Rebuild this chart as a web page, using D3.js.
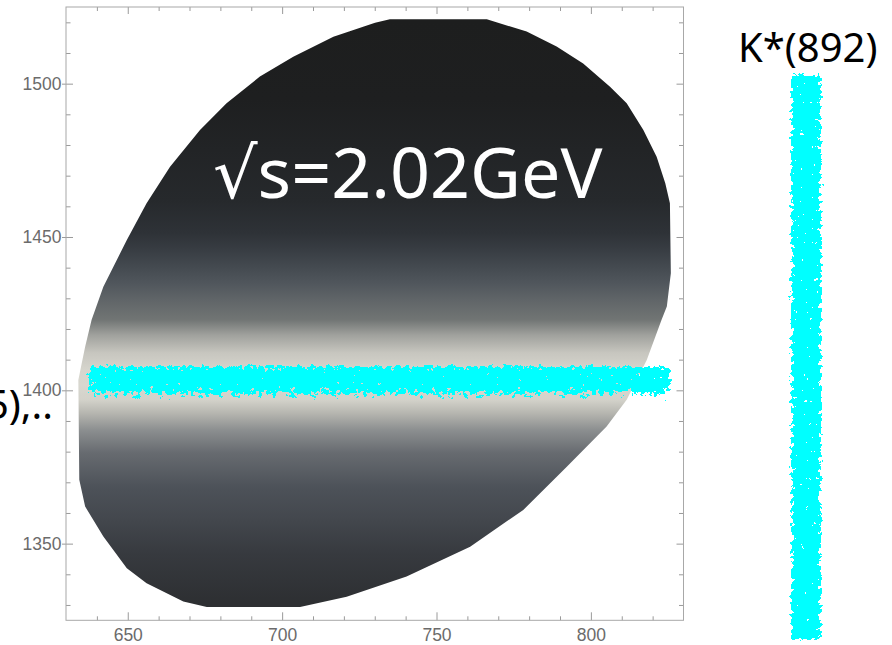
<!DOCTYPE html>
<html>
<head>
<meta charset="utf-8">
<script src="https://cdn.jsdelivr.net/npm/d3@7"></script>
<style>
  html, body { margin: 0; padding: 0; background: #fff; }
  svg { display: block; }
</style>
</head>
<body>
<svg id="chart" width="892" height="645"></svg>
<script>
// Axis ranges and tick values
const xDomain = [630, 830];
const yDomain = [1325, 1525];
const xMajorTicks = [650, 700, 750, 800];
const xMinorTicks = [640, 660, 670, 680, 690, 710, 720, 730, 740, 760, 770, 780, 790, 810, 820];
const yMajorTicks = [1350, 1400, 1450, 1500];
const yMinorTicks = [1330, 1340, 1360, 1370, 1380, 1390, 1410, 1420, 1430, 1440, 1460, 1470, 1480, 1490, 1510, 1520];

// Kinematic boundary of the allowed region, [x, y] in MeV
const boundary = [
  [734.9, 1521.0], [766.3, 1521.0], [779.2, 1517.0], [788.9, 1512.1], [797.5, 1506.6],
  [806.2, 1499.0], [811.6, 1493.6], [817.0, 1484.9], [821.3, 1476.2], [824.1, 1467.5],
  [825.6, 1461.0], [825.9, 1438.2], [824.6, 1427.3], [822.9, 1423.0], [818.1, 1409.9],
  [811.6, 1396.9], [805.1, 1388.2], [792.2, 1375.1], [778.1, 1361.0], [760.9, 1349.0],
  [740.3, 1339.3], [720.9, 1332.7], [705.8, 1329.3], [675.6, 1329.3], [668.0, 1331.1],
  [656.1, 1337.1], [649.7, 1342.0], [642.1, 1352.3], [636.2, 1362.1], [634.3, 1370.8],
  [634.0, 1403.4], [635.1, 1408.8], [636.2, 1414.2], [638.3, 1423.0], [642.1, 1433.8],
  [649.7, 1449.0], [656.1, 1461.0], [663.7, 1472.9], [673.4, 1484.9], [682.0, 1493.6],
  [692.8, 1502.3], [703.6, 1508.8], [716.6, 1515.3], [730.1, 1519.9]
];

// Intensity shading across the region: [y, colour]
const shadeY = [1521, 1494.7, 1462, 1451.3, 1445.8, 1440.2, 1435, 1429.5, 1423, 1418,
                1412.2, 1406.6, 1401.8, 1396.9, 1392.6, 1387.1, 1379.6, 1368.5, 1357.7, 1346.9, 1330.7];
const shadeColor = ["#1d1e1e", "#1e1f20", "#26292c", "#2e3237", "#383d43", "#444a50", "#50565c",
                    "#606568", "#717574", "#a0a19d", "#c7c6bf", "#d6d5cd", "#d8d7cf", "#d3d2ca",
                    "#b6b6b0", "#8c8f90", "#676b70", "#4d5259", "#43474d", "#373a3f", "#2d2f32"];

// Resonance bands (event scatter): horizontal band in y, vertical band in x
const hBand = { x0: 636.7, x1: 826.2, yCore: [1399.5, 1408.5], yFringe: [1396.0, 1399.5] };
const vBand = { x: [864.2, 875.2], y0: 1318.0, y1: 1504.0 };

// Labels
const energyLabel = "\u221As=2.02GeV";
const vBandLabel = "K*(892)";
const hBandLabel = "\u039B(1405),..";

const svg = d3.select("#chart");
const x = d3.scaleLinear().domain(xDomain).range([66, 683.5]);
const y = d3.scaleLinear().domain(yDomain).range([620.3, 7]);

const defs = svg.append("defs");

// vertical shading gradient in screen space
const gy1 = y(d3.max(shadeY)), gy2 = y(d3.min(shadeY));
const grad = defs.append("linearGradient")
  .attr("id", "shade").attr("gradientUnits", "userSpaceOnUse")
  .attr("x1", 0).attr("x2", 0).attr("y1", gy1).attr("y2", gy2);
shadeY.forEach((v, i) => {
  grad.append("stop")
    .attr("offset", (y(v) - gy1) / (gy2 - gy1))
    .attr("stop-color", shadeColor[i]);
});

// grainy scatter look for the event bands
const f = defs.append("filter").attr("id", "scatter")
  .attr("filterUnits", "userSpaceOnUse")
  .attr("x", 0).attr("y", 0).attr("width", 892).attr("height", 645)
  .attr("color-interpolation-filters", "sRGB");
f.append("feGaussianBlur").attr("in", "SourceAlpha").attr("stdDeviation", 3.5).attr("result", "soft");
f.append("feTurbulence").attr("type", "fractalNoise").attr("baseFrequency", 0.22)
  .attr("numOctaves", 3).attr("seed", 11).attr("result", "noise");
f.append("feColorMatrix").attr("in", "noise").attr("type", "matrix")
  .attr("values", "0 0 0 0 0  0 0 0 0 0  0 0 0 0 0  1 0 0 0 0").attr("result", "na");
f.append("feComposite").attr("in", "soft").attr("in2", "na").attr("operator", "arithmetic")
  .attr("k1", 0).attr("k2", 1.5).attr("k3", 1.4).attr("k4", -1.3).attr("result", "mix");
const ct = f.append("feComponentTransfer").attr("in", "mix").attr("result", "mask");
ct.append("feFuncA").attr("type", "discrete").attr("tableValues", "0 1");
f.append("feFlood").attr("flood-color", "#00ffff").attr("result", "cyan");
f.append("feComposite").attr("in", "cyan").attr("in2", "mask").attr("operator", "in");

// allowed region
svg.append("path")
  .datum(boundary)
  .attr("d", d3.line().x(d => x(d[0])).y(d => y(d[1])).curve(d3.curveLinearClosed))
  .attr("fill", "url(#shade)");

// energy label
svg.append("text")
  .attr("x", 213).attr("y", 198)
  .attr("font-family", "'Noto Sans', 'DejaVu Sans', sans-serif")
  .attr("font-size", 70).attr("fill", "#ffffff")
  .text(energyLabel);

// frame axes
const axisFont = "'Liberation Sans', Arial, sans-serif";
function styleAxis(g) {
  g.select(".domain").remove();
  g.selectAll(".tick line").attr("stroke", "#9a9a9a").attr("stroke-width", 1);
  g.selectAll(".tick text").attr("fill", "#6b6b6b").attr("font-size", 17.5).attr("font-family", axisFont);
}
const H = 620.3, W = 683.5;

svg.append("g").attr("transform", `translate(0,${H})`)
  .call(d3.axisBottom(x).tickValues(xMajorTicks).tickSize(-8).tickSizeOuter(0).tickPadding(8).tickFormat(d3.format("d")))
  .call(styleAxis);
svg.append("g").attr("transform", `translate(0,${H})`)
  .call(d3.axisBottom(x).tickValues(xMinorTicks).tickSize(-4).tickSizeOuter(0).tickFormat(""))
  .call(styleAxis);
svg.append("g").attr("transform", `translate(0,7)`)
  .call(d3.axisTop(x).tickValues(xMajorTicks).tickSize(-7).tickSizeOuter(0).tickFormat(""))
  .call(styleAxis);
svg.append("g").attr("transform", `translate(0,7)`)
  .call(d3.axisTop(x).tickValues(xMinorTicks).tickSize(-4).tickSizeOuter(0).tickFormat(""))
  .call(styleAxis);

svg.append("g").attr("transform", `translate(66,0)`)
  .call(d3.axisLeft(y).tickValues(yMajorTicks).tickSize(-7).tickSizeOuter(0).tickPadding(4.5).tickFormat(d3.format("d")))
  .call(styleAxis);
svg.append("g").attr("transform", `translate(66,0)`)
  .call(d3.axisLeft(y).tickValues(yMajorTicks).tickSize(4).tickSizeOuter(0).tickFormat(""))
  .call(styleAxis);
svg.append("g").attr("transform", `translate(66,0)`)
  .call(d3.axisLeft(y).tickValues(yMinorTicks).tickSize(-4.5).tickSizeOuter(0).tickFormat(""))
  .call(styleAxis);
svg.append("g").attr("transform", `translate(${W},0)`)
  .call(d3.axisRight(y).tickValues(yMajorTicks).tickSize(-7).tickSizeOuter(0).tickFormat(""))
  .call(styleAxis);
svg.append("g").attr("transform", `translate(${W},0)`)
  .call(d3.axisRight(y).tickValues(yMinorTicks).tickSize(-4.5).tickSizeOuter(0).tickFormat(""))
  .call(styleAxis);

svg.append("rect")
  .attr("x", 66).attr("y", 7).attr("width", W - 66).attr("height", H - 7)
  .attr("fill", "none").attr("stroke", "#a8a8a8").attr("stroke-width", 1);

// event bands
const bands = svg.append("g").attr("filter", "url(#scatter)");
bands.append("rect")
  .attr("x", x(hBand.x0)).attr("width", x(hBand.x1) - x(hBand.x0))
  .attr("y", y(hBand.yCore[1])).attr("height", y(hBand.yCore[0]) - y(hBand.yCore[1]))
  .attr("fill", "#000");
bands.append("rect")
  .attr("x", x(hBand.x0)).attr("width", x(hBand.x1) - x(hBand.x0))
  .attr("y", y(hBand.yFringe[1])).attr("height", y(hBand.yFringe[0]) - y(hBand.yFringe[1]))
  .attr("fill", "#000").attr("fill-opacity", 0.6);
bands.append("rect")
  .attr("x", x(vBand.x[0])).attr("width", x(vBand.x[1]) - x(vBand.x[0]))
  .attr("y", y(vBand.y1)).attr("height", y(vBand.y0) - y(vBand.y1))
  .attr("fill", "#000");

// band labels
const labelFont = "'Noto Sans', 'DejaVu Sans', sans-serif";
svg.append("text")
  .attr("x", 738).attr("y", 62)
  .attr("font-family", labelFont).attr("font-size", 40).attr("fill", "#000")
  .text(vBandLabel);
svg.append("text")
  .attr("x", 53).attr("y", 419).attr("text-anchor", "end")
  .attr("font-family", labelFont).attr("font-size", 40).attr("fill", "#000")
  .text(hBandLabel);
</script>
</body>
</html>
